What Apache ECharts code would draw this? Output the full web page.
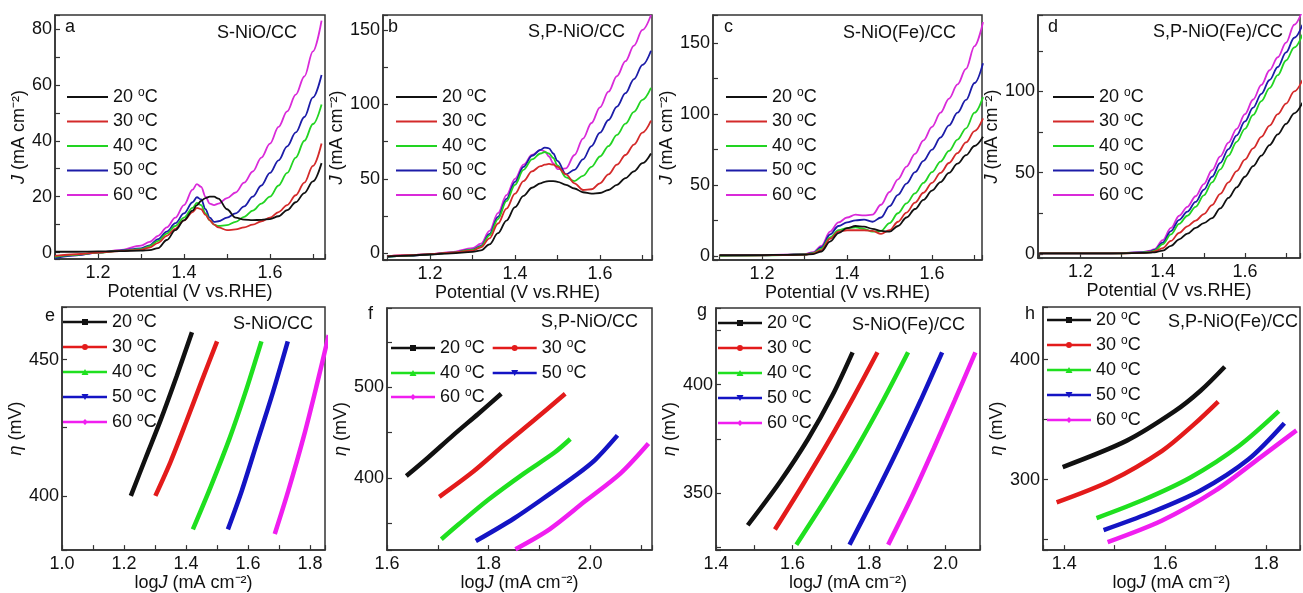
<!DOCTYPE html>
<html><head><meta charset="utf-8">
<script src="https://cdn.jsdelivr.net/npm/echarts@6/dist/echarts.min.js"></script>
<style>html,body{margin:0;padding:0;background:#fff}#c{width:1303px;height:593px}</style>
</head><body><div id="c"></div><script>
const temps = ['20 °C','30 °C','40 °C','50 °C','60 °C'];

// (a) S-NiO/CC : J vs potential
const aX = [1.10,1.15,1.20,1.25,1.30,1.32,1.34,1.36,1.38,1.40,1.42,1.43,1.44,1.45,1.46,1.47,1.48,1.50,1.52,1.54,1.56,1.58,1.60,1.62,1.64,1.66,1.68,1.70,1.72];
const aY20 = [0.3,0.3,0.4,0.5,0.7,0.9,1.6,4.5,8,11.5,15,17,18.5,19.5,20,20,19.3,15.5,12.5,11.8,11.6,11.7,12,13,15.2,18,21.3,25.5,32];
const aY30 = [-1.2,-0.6,0,0.5,1,1.8,3.5,6,8.5,11.5,14.5,16,15.5,13.5,11.5,10,9,8,8.3,9,10,11.2,12.5,14.5,17,20.5,25,31,39];
const aY40 = [-1.5,-0.8,0,0.6,1.2,2.3,4.2,6.8,9.5,12.5,16,17.8,17,14,11.5,10,9.5,9.8,11,12.8,15,17.5,20,24,28.5,34,40,46,53];
const aY50 = [-2,-1,0,0.7,1.5,2.6,4.8,7.5,10.5,14,18,19.8,19,15.5,12.5,11,11.2,12.5,14,16.5,20,24,28.5,33,38,43,48.5,55.5,63.5];
const aY60 = [-1.7,-0.9,0,0.9,2.5,3.8,6,9,12.5,17,22.5,24.5,23.5,20,17.5,17,17.5,19.5,21.5,25,29,34,39,45,50.5,56.5,63,72,83];

// (b) S,P-NiO/CC
const bX = [1.10,1.15,1.20,1.25,1.30,1.32,1.34,1.36,1.38,1.40,1.42,1.44,1.46,1.47,1.48,1.49,1.50,1.52,1.54,1.56,1.58,1.60,1.62,1.64,1.66,1.68,1.70,1.72];
const bY20 = [-2,-1.5,-0.8,0,1,2,6,13.5,22,31,38.5,44,47,48,48.5,48.5,48,46,43.5,41,40,40.5,42.5,46,50.5,55,60.5,67];
const bY30 = [-2,-1.3,-0.6,0.4,1.8,4,10,20,30,40,48.5,55,58.5,59.5,60,59.5,58,53,47,42.5,43,47,53,59.5,66,73,81,89];
const bY40 = [-2.3,-1.5,-0.7,0.4,2.2,4.5,12,23,35,46,56,63,67,68,67,64,59,51,48.5,52,58,65,72,79.5,87,95,103,111];
const bY50 = [-2.5,-1.6,-0.7,0.5,2.5,5,13,24.5,36.5,48,58,65.5,69.5,71,70.5,67,62,53,56,63,72,81,89.5,98.5,107.5,117,126.5,136];
const bY60 = [-2,-1.3,-0.5,0.8,3.5,6.5,15,27,39,50,59.5,66,69.5,68.5,65,60.5,56.5,57,66,77,87.5,98,108.5,119,129,139.5,150,160];

// (c) S-NiO(Fe)/CC
const cX = [1.10,1.15,1.20,1.25,1.30,1.32,1.34,1.36,1.38,1.40,1.42,1.44,1.46,1.48,1.50,1.52,1.54,1.56,1.58,1.60,1.62,1.64,1.66,1.68,1.70,1.72];
const cY20 = [0.5,0.5,0.5,0.6,0.8,1.2,3,10,16,19.5,21,20.5,19,17.5,17,21,27,33,39.5,46,52,58.5,65,71,77.5,84];
const cY30 = [0.2,0.2,0.3,0.5,0.8,1.5,4,12,17,18,18,18,17.5,15.5,18,24,30.5,37.5,44.5,51.5,58.5,65.5,72.5,80,88,97];
const cY40 = [0,0.1,0.2,0.5,0.9,1.8,5,13,18,19.5,20,19,17,17.5,23,30,37,44,51.5,59,66.5,74,82,90,101,112];
const cY50 = [0,0.1,0.3,0.6,1,2,6,15,21,23.5,25,25.5,24,27,35,43,51,59,67,75,83.5,92,101,110,122,136];
const cY60 = [0,0.2,0.4,0.7,1.2,2.5,7,17,23.5,27,29,28.5,29,36,45,54,63,72,81.5,91,101,111,121,132,148,165];

// (d) S,P-NiO(Fe)/CC
const dX = [1.10,1.15,1.20,1.25,1.30,1.35,1.37,1.38,1.40,1.42,1.44,1.46,1.48,1.50,1.52,1.54,1.56,1.58,1.60,1.62,1.64,1.66,1.68,1.70,1.72,1.74];
const dY20 = [0.3,0.3,0.3,0.3,0.4,0.6,0.8,1,2,5,9,12.5,16,19,22,28,34.5,41,47.5,54,60.5,67,73.5,80,86.5,93];
const dY30 = [0.3,0.3,0.3,0.3,0.4,0.7,1,1.5,3.5,8,13,17,20.5,24.5,30,37,44,51,58,65,72,79,86,92.5,100,107];
const dY40 = [0.3,0.3,0.3,0.3,0.4,0.8,1.3,2,6,12,18.5,23.5,29,36,44,52,60.5,69,77,85.5,94,102,110,119,127,135];
const dY50 = [0.3,0.3,0.3,0.3,0.5,1,1.6,2.5,7,14,21,26,32,39.5,47.5,56,64.5,73,81.5,90,98.5,107,115,124,133,141];
const dY60 = [0.3,0.3,0.3,0.3,0.5,1.2,2,3,8.5,16,23.5,29,35.5,43,51.5,60,68.5,77,86,95,104,113,121,130,141,150];

// (e) Tafel S-NiO/CC : eta (mV) vs logJ
const eX20 = [1.222,1.27,1.317,1.37,1.419], eY20 = [400,414,427.5,444,460];
const eX30 = [1.301,1.35,1.40,1.45,1.50],  eY30 = [400,412.5,427,442,456.7];
const eX40 = [1.422,1.48,1.54,1.59,1.643], eY40 = [387.7,403.5,421,437.5,456.7];
const eX50 = [1.535,1.58,1.63,1.68,1.728], eY50 = [387.7,402,420,438,456.7];
const eX60 = [1.686,1.73,1.78,1.82,1.86],  eY60 = [386,402,422,440,459];

// (f) Tafel S,P-NiO/CC
const fX20 = [1.638,1.68,1.73,1.78,1.825], fY20 = [402,422,447,471,493];
const fX30 = [1.703,1.77,1.83,1.89,1.951], fY30 = [379,407,436,464,493];
const fX40 = [1.707,1.74,1.80,1.87,1.93,1.961], fY40 = [332,348,376,405,428,443];
const fX50 = [1.775,1.85,1.92,1.97,2.01,2.054], fY50 = [330,355,382,402,420,447];
const fX60 = [1.853,1.92,1.99,2.06,2.115], fY60 = [321,343,374,405,438];

// (g) Tafel S-NiO(Fe)/CC
const gX20 = [1.483,1.567,1.641,1.704,1.757], gY20 = [335,355,375,395,415];
const gX30 = [1.554,1.626,1.695,1.760,1.822], gY30 = [333,353.5,374,394.5,415];
const gX40 = [1.610,1.691,1.767,1.837,1.902], gY40 = [326,348.3,370.5,392.8,415];
const gX50 = [1.749,1.814,1.876,1.935,1.991], gY50 = [326,348.3,370.5,392.8,415];
const gX60 = [1.850,1.912,1.969,2.024,2.078], gY60 = [326,348.3,370.5,392.8,415];

// (h) Tafel S,P-NiO(Fe)/CC
const hX20 = [1.397,1.524,1.619,1.67,1.718], hY20 = [310.5,332.5,357,374,394];
const hX30 = [1.385,1.492,1.594,1.657,1.705], hY30 = [281,299,324,346,365];
const hX40 = [1.464,1.556,1.651,1.746,1.825], hY40 = [268,283,302,328,357];
const hX50 = [1.478,1.568,1.67,1.765,1.836],  hY50 = [258,272,291,317,347];
const hX60 = [1.486,1.594,1.70,1.79,1.86],    hY60 = [248,266,291,319,341];

const panelTitles = ['S-NiO/CC','S,P-NiO/CC','S-NiO(Fe)/CC','S,P-NiO(Fe)/CC','S-NiO/CC','S,P-NiO/CC','S-NiO(Fe)/CC','S,P-NiO(Fe)/CC'];
const panelLetters = ['a','b','c','d','e','f','g','h'];

// ---------- layout / style ----------
const FONT = '"Liberation Sans", Arial, Helvetica, sans-serif';
const topColors = ['#111111','#d42a2a','#22d422','#1c1ca8','#d92ad9'];
const botColors = ['#111111','#e31b1b','#1fe01f','#1414c4','#f01ef0'];
const grids = [
  {left:55, top:15, width:270, height:244},
  {left:383, top:15, width:269, height:245},
  {left:713, top:15, width:269, height:245},
  {left:1038, top:15, width:271, height:243},
  {left:62, top:307, width:263, height:245},
  {left:387, top:308, width:265, height:244},
  {left:716, top:308, width:264, height:245},
  {left:1043, top:307, width:267, height:245}
];
const xr = [[1.1,1.728],[1.0894,1.7224],[1.0847,1.7176],[1.0965,1.734],[1.0,1.848],[1.6,2.122],[1.4,2.09],[1.358,1.867]];
const yr = [[-2.3,85],[-4.5,160],[-3,170],[-2.5,147],[380.1,469.3],[320,588],[323.5,435.5],[241.3,443.8]];
const yTick = [10,25,25,25,25,50,25,50];
const yLbl = [20,50,50,50,50,100,50,100];
const yNameGap = [24,29,29,24,18,23,22,19];

function pairs(xs, ys){ return xs.map((x,i)=>[x, ys[i]]); }
function fmt(step, dec){ return v => { const k = v/step; return Math.abs(k-Math.round(k))<1e-6 ? v.toFixed(dec) : ''; }; }

const axisLineStyle = {color:'#333', width:1.5};
const xAxes = [], yAxes = [];
for (let i=0;i<8;i++){
  const top = i<4;
  xAxes.push({
    type:'value', gridIndex:i, min:xr[i][0], max:xr[i][1], minInterval:0.1, maxInterval:0.1,
    axisLine:{show:true, onZero:false, lineStyle:axisLineStyle},
    axisTick:{show:true, inside:true, length:5, lineStyle:{color:'#333', width:1.2}},
    splitLine:{show:false},
    axisLabel:{margin:5, fontSize:18, color:'#111', fontFamily:FONT, formatter:fmt(0.2,1)},
    name: top ? 'Potential (V vs.RHE)' : 'log{i|J} (mA cm⁻²)',
    nameLocation:'middle', nameGap: top ? 19 : 18,
    nameTextStyle:{fontSize:18, color:'#111', fontFamily:FONT, rich:{i:{fontStyle:'italic', fontSize:18, fontFamily:FONT, color:'#111'}}}
  });
  yAxes.push({
    type:'value', gridIndex:i, min:yr[i][0], max:yr[i][1], minInterval:yTick[i], maxInterval:yTick[i],
    axisLine:{show:true, onZero:false, lineStyle:axisLineStyle},
    axisTick:{show:true, inside:true, length:5, lineStyle:{color:'#333', width:1.2}},
    splitLine:{show:false},
    axisLabel:{margin:3, fontSize:18, color:'#111', fontFamily:FONT, formatter:fmt(yLbl[i],0)},
    name: top ? '{i|J} (mA cm⁻²)' : '{i|η} (mV)',
    nameLocation:'middle', nameGap:yNameGap[i],
    nameTextStyle:{fontSize:18, color:'#111', fontFamily:FONT, rich:{i:{fontStyle:'italic', fontSize:18, fontFamily:FONT, color:'#111'}}}
  });
}

const topSets = [
  [aX,[aY20,aY30,aY40,aY50,aY60]],
  [bX,[bY20,bY30,bY40,bY50,bY60]],
  [cX,[cY20,cY30,cY40,cY50,cY60]],
  [dX,[dY20,dY30,dY40,dY50,dY60]]
];
const botSets = [
  [[eX20,eY20],[eX30,eY30],[eX40,eY40],[eX50,eY50],[eX60,eY60]],
  [[fX20,fY20],[fX30,fY30],[fX40,fY40],[fX50,fY50],[fX60,fY60]],
  [[gX20,gY20],[gX30,gY30],[gX40,gY40],[gX50,gY50],[gX60,gY60]],
  [[hX20,hY20],[hX30,hY30],[hX40,hY40],[hX50,hY50],[hX60,hY60]]
];
const botNames = temps.map(t => t + ' ');

const series = [];
topSets.forEach((set, p) => {
  set[1].forEach((ys, k) => {
    series.push({type:'line', name:temps[k], xAxisIndex:p, yAxisIndex:p, data:pairs(set[0], ys),
      showSymbol:false, symbol:'none', smooth:0.35, smoothMonotone:'x',
      lineStyle:{width:1.8, color:topColors[k]}, itemStyle:{color:topColors[k]}, z:10-k});
  });
});
botSets.forEach((set, p) => {
  set.forEach((xy, k) => {
    series.push({type:'line', name:botNames[k], xAxisIndex:p+4, yAxisIndex:p+4, data:pairs(xy[0], xy[1]),
      showSymbol:false, symbol:'none', smooth:0.3,
      lineStyle:{width:4.5, color:botColors[k]}, itemStyle:{color:botColors[k]}});
  });
});

// legend icons for Tafel panels: line + marker (square, circle, up-tri, down-tri, diamond)
const markerIcons = [
  'path://M0,1.75L19,1.75L19,0L25,0L25,1.75L44,1.75L44,4.25L25,4.25L25,6L19,6L19,4.25L0,4.25Z',
  'path://M0,1.75L44,1.75L44,4.25L0,4.25Z M22,0A3,3 0 1,1 21.99,0Z',
  'path://M0,1.75L44,1.75L44,4.25L0,4.25Z M22,0L25.5,6L18.5,6Z',
  'path://M0,1.75L44,1.75L44,4.25L0,4.25Z M18.5,0L25.5,0L22,6Z',
  'path://M0,1.75L44,1.75L44,4.25L0,4.25Z M22,0L25,3L22,6L19,3Z'
];
const legText = {fontSize:18, color:'#111', fontFamily:FONT, lineHeight:20,
  rich:{s:{fontSize:12, fontFamily:FONT, color:'#111', verticalAlign:'top', lineHeight:12}}};
const legFmt = n => n.trim().replace('°', '{s|o}');
function topLegend(left, top){
  return {orient:'vertical', left, top, padding:0, itemGap:4.5, itemWidth:41, itemHeight:2, icon:'rect',
    data:temps.slice(), textStyle:legText, formatter:legFmt, selectedMode:false};
}
function botLegend(left, top, idx, orient, gap){
  return {orient, left, top, padding:0, itemGap:gap, itemWidth:44, itemHeight:6,
    data:idx.map(k => ({name:botNames[k], icon:markerIcons[k]})), textStyle:legText, formatter:legFmt, selectedMode:false};
}
const legends = [
  topLegend(67,87), topLegend(396,87), topLegend(726,87), topLegend(1053,87),
  botLegend(63,312,[0,1,2,3,4],'vertical',5),
  botLegend(391,338,[0,1],'horizontal',8),
  botLegend(391,363,[2,3],'horizontal',8),
  botLegend(391,387,[4],'horizontal',8),
  botLegend(718,313,[0,1,2,3,4],'vertical',5),
  botLegend(1047,310,[0,1,2,3,4],'vertical',5)
];

// panel letters and sample names
const letterPos = [[65,27.3],[388,27.3],[724,27.3],[1048,27.3],[45,316],[368,314],[697,311],[1025,314]];
const titlePos = [[297,33],[625,32],[956,33],[1283,32],[313,324],[638,322],[965,325],[1298,322]];
const graphics = [];
for (let i=0;i<8;i++){
  graphics.push({type:'text', x:letterPos[i][0], y:letterPos[i][1], z:100,
    style:{text:panelLetters[i], fill:'#111', font:'18px '+FONT, align:'left', verticalAlign:'middle'}});
  graphics.push({type:'text', x:titlePos[i][0], y:titlePos[i][1], z:100,
    style:{text:panelTitles[i], fill:'#111', font:'18px '+FONT, align:'right', verticalAlign:'middle'}});
}

const chart = echarts.init(document.getElementById('c'), null, {renderer:'canvas'});
chart.setOption({
  animation:false,
  backgroundColor:'#ffffff',
  grid: grids.map(g => Object.assign({show:true, borderColor:'#333', borderWidth:1.5, containLabel:false}, g)),
  xAxis:xAxes, yAxis:yAxes, legend:legends, series, graphic:graphics
});
</script></body></html>
